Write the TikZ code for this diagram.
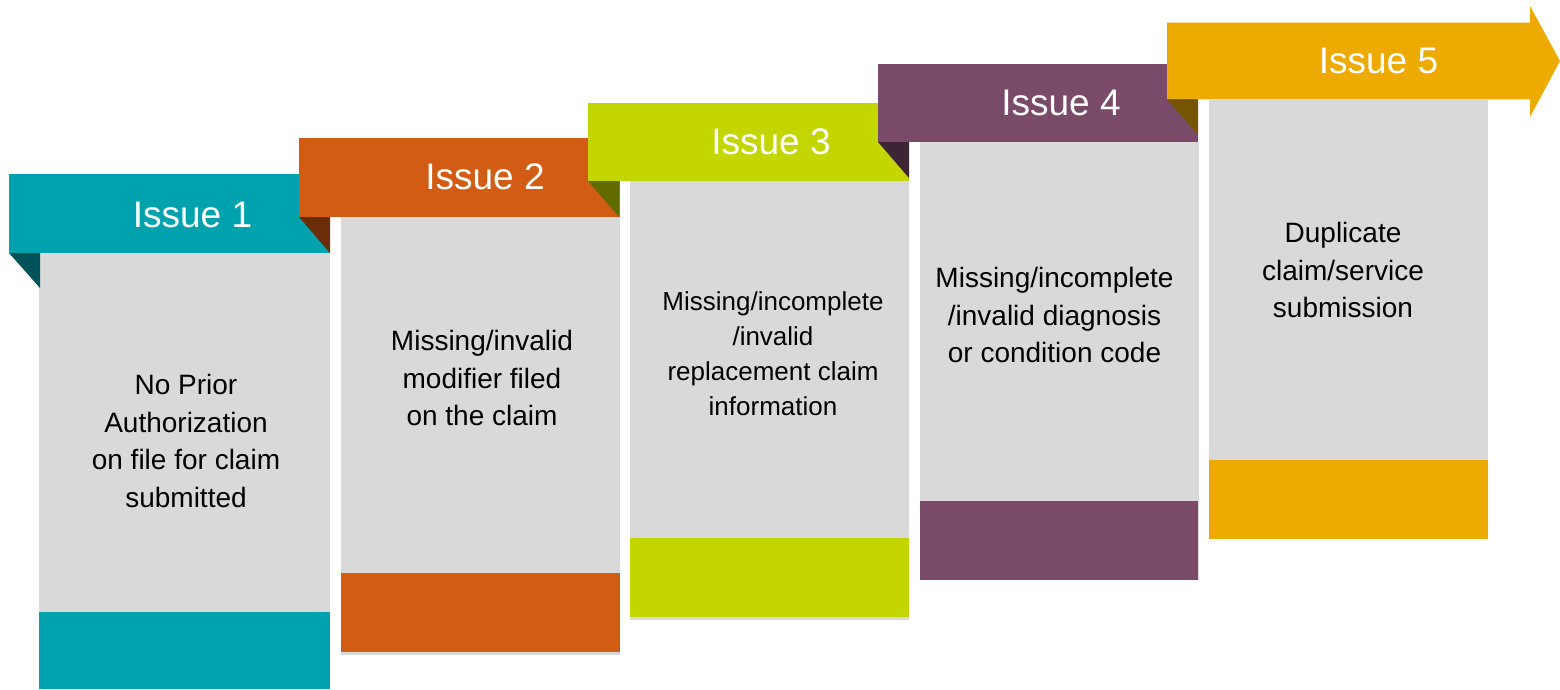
\documentclass[tikz,border=0pt]{standalone}
\usepackage{fontspec}
\setmainfont{Liberation Sans}
\definecolor{cteal}{HTML}{00A2AE}
\definecolor{dteal}{HTML}{00525A}
\definecolor{corange}{HTML}{D35C14}
\definecolor{dorange}{HTML}{6A2D08}
\definecolor{clime}{HTML}{C3D600}
\definecolor{dlime}{HTML}{616B00}
\definecolor{cpurple}{HTML}{7A4A69}
\definecolor{dpurple}{HTML}{3E2536}
\definecolor{cgold}{HTML}{EDAA00}
\definecolor{dgold}{HTML}{765500}
\definecolor{cgrey}{HTML}{D9D9D9}
\begin{document}
\begin{tikzpicture}[x=1pt,y=-1pt,
  body/.style={fill=cgrey},
  issue/.style={text=white,font=\fontsize{37}{40}\selectfont,anchor=base,inner sep=0pt},
  desc/.style={align=center,font=\fontsize{28}{37.5}\selectfont,inner sep=0pt},
  descs/.style={align=center,font=\fontsize{26}{35}\selectfont,inner sep=0pt}]
\useasboundingbox (0,0) rectangle (1560,689);
% ---- column 1
\fill[body] (39,253) rectangle (330,689);
\fill[cteal] (39,612) rectangle (330,689);
\fill[cteal] (9,174) rectangle (330,253);
\fill[dteal] (9,253) -- (40,253) -- (40,288) -- cycle;
\node[issue] (i1) at (192.5,227) {Issue 1};
\node[desc] (t1) at (186,441) {No Prior\\Authorization\\on file for claim\\submitted};
% ---- column 2
\fill[body] (341,217) rectangle (620,655);
\fill[corange] (341,573) rectangle (620,652);
\fill[corange] (299,138) rectangle (620,217);
\fill[dorange] (299,217) -- (330,217) -- (330,253) -- cycle;
\node[issue] (i2) at (485,189.5) {Issue 2};
\node[desc] (t2) at (482,378) {Missing/invalid\\modifier filed\\on the claim};
% ---- column 3
\fill[body] (630,181) rectangle (909,620);
\fill[clime] (630,538) rectangle (909,617);
\fill[clime] (588,103) rectangle (909,181);
\fill[dlime] (588,181) -- (619,181) -- (619,217) -- cycle;
\node[issue] (i3) at (771,154) {Issue 3};
\node[descs] (t3) at (773,354) {Missing/incomplete\\/invalid\\replacement claim\\information};
% ---- column 4
\fill[body] (920,142) rectangle (1199,580);
\fill[cpurple] (920,501) rectangle (1198,580);
\fill[cpurple] (878,64) rectangle (1198,142);
\fill[dpurple] (878,142) -- (909,142) -- (909,178) -- cycle;
\node[issue] (i4) at (1061,115.7) {Issue 4};
\node[desc] (t4) at (1054.5,315) {Missing/incomplete\\/invalid diagnosis\\or condition code};
% ---- column 5
\fill[body] (1209,100) rectangle (1488,539);
\fill[cgold] (1209,460) rectangle (1488,539);
\fill[cgold] (1167,22.7) -- (1530,22.7) -- (1530,6) -- (1560,61) -- (1530,117) -- (1530,99.3) -- (1167,99.3) -- cycle;
\fill[dgold] (1167,99.3) -- (1198,99.3) -- (1198,135) -- cycle;
\node[issue] (i5) at (1378.5,73.3) {Issue 5};
\node[desc] (t5) at (1343,270) {Duplicate\\claim/service\\submission};
\end{tikzpicture}
\end{document}
